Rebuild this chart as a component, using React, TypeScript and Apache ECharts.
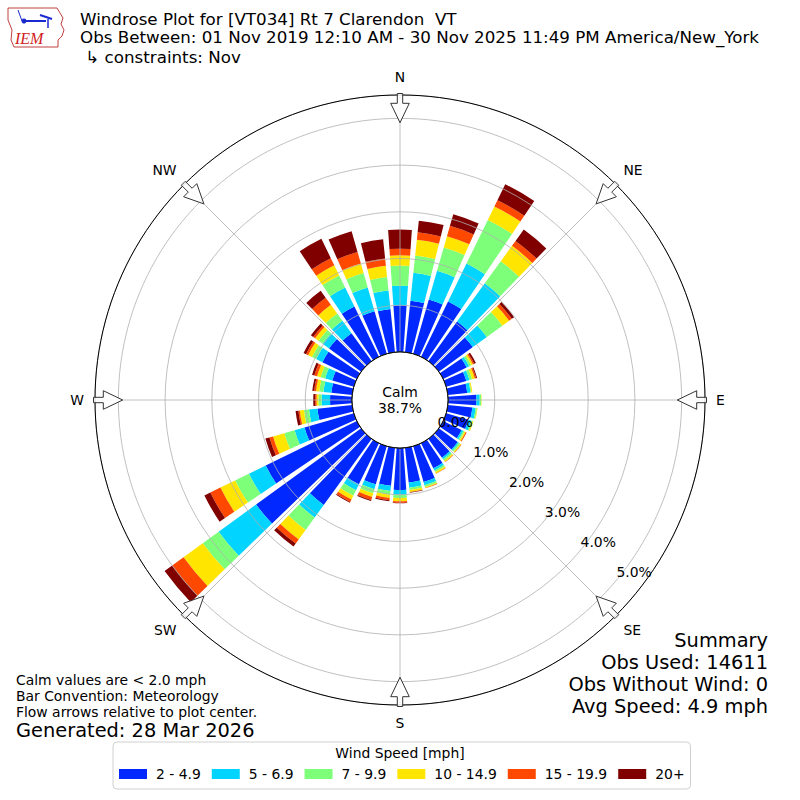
import React, { useEffect, useRef } from "react";
import * as echarts from "echarts";

// ---- data (percent of observations, per 10-degree direction bin) ----
const DIRECTIONS = [0, 10, 20, 30, 40, 50, 60, 70, 80, 90, 100, 110, 120, 130, 140, 150, 160, 170,
  180, 190, 200, 210, 220, 230, 240, 250, 260, 270, 280, 290, 300, 310, 320, 330, 340, 350];

const SPEED_BINS = ["2 - 4.9", "5 - 6.9", "7 - 9.9", "10 - 14.9", "15 - 19.9", "20+"];
const BIN_COLORS = ["#0028ff", "#00d4ff", "#7dff7a", "#ffe500", "#ff4800", "#800000"];

const SPD_2_5 = [1.00, 1.11, 1.21, 1.32, 1.05, 0.90, 0.56, 0.45, 0.42, 0.61, 0.53, 0.50, 0.44, 0.50, 0.50, 0.60, 0.80, 0.75,
  0.90, 0.82, 0.85, 0.98, 1.75, 2.78, 2.17, 1.10, 0.75, 0.47, 0.45, 0.48, 0.82, 0.85, 0.74, 1.20, 0.95, 0.93];
const SPD_5_7 = [0.42, 0.60, 0.64, 0.90, 1.01, 0.37, 0.06, 0.07, 0.07, 0.07, 0.07, 0.06, 0.04, 0.03, 0.04, 0.05, 0.07, 0.11,
  0.10, 0.11, 0.11, 0.14, 0.33, 0.99, 0.40, 0.22, 0.18, 0.18, 0.17, 0.16, 0.15, 0.17, 0.33, 0.45, 0.53, 0.40];
const SPD_7_10 = [0.43, 0.37, 0.52, 1.04, 0.58, 0.41, 0.05, 0.06, 0.02, 0.03, 0.03, 0.03, 0.03, 0.04, 0.04, 0.04, 0.04, 0.05,
  0.07, 0.08, 0.09, 0.13, 0.33, 0.42, 0.33, 0.23, 0.11, 0.07, 0.09, 0.10, 0.10, 0.11, 0.19, 0.29, 0.32, 0.29];
const SPD_10_15 = [0.22, 0.34, 0.25, 0.32, 0.41, 0.18, 0.04, 0.06, 0.02, 0.01, 0.01, 0.02, 0.03, 0.02, 0.03, 0.03, 0.02, 0.04,
  0.07, 0.07, 0.08, 0.09, 0.25, 0.51, 0.35, 0.25, 0.09, 0.04, 0.07, 0.08, 0.09, 0.09, 0.23, 0.24, 0.21, 0.24];
const SPD_15_20 = [0.14, 0.16, 0.23, 0.15, 0.13, 0.07, 0.03, 0.03, 0.00, 0.00, 0.00, 0.00, 0.02, 0.01, 0.01, 0.01, 0.01, 0.01,
  0.03, 0.05, 0.07, 0.06, 0.11, 0.30, 0.24, 0.08, 0.03, 0.03, 0.04, 0.06, 0.05, 0.05, 0.19, 0.17, 0.26, 0.16];
const SPD_20_UP = [0.41, 0.25, 0.26, 0.38, 0.30, 0.06, 0.04, 0.02, 0.00, 0.00, 0.00, 0.00, 0.00, 0.00, 0.00, 0.00, 0.00, 0.01,
  0.01, 0.02, 0.02, 0.02, 0.08, 0.20, 0.14, 0.09, 0.06, 0.04, 0.04, 0.05, 0.06, 0.06, 0.18, 0.46, 0.46, 0.41];

const BIN_DATA = [SPD_2_5, SPD_5_7, SPD_7_10, SPD_10_15, SPD_15_20, SPD_20_UP];

const RADIUS_MAX = 5.5;
const RADIUS_STEP = 1;
const COMPASS = ["N", "NE", "E", "SE", "S", "SW", "W", "NW"];
const CALM_PCT = "38.7%";

const TITLE_LINES = [
  "Windrose Plot for [VT034] Rt 7 Clarendon  VT",
  "Obs Between: 01 Nov 2019 12:10 AM - 30 Nov 2025 11:49 PM America/New_York",
  " \u21b3 constraints: Nov",
];
const NOTES = [
  "Calm values are < 2.0 mph",
  "Bar Convention: Meteorology",
  "Flow arrows relative to plot center.",
];
const GENERATED = "Generated: 28 Mar 2026";
const SUMMARY = ["Summary", "Obs Used: 14611", "Obs Without Wind: 0", "Avg Speed: 4.9 mph"];

const FONT = "DejaVu Sans";
const CX = 400;
const CY = 400;
const R_IN = 48;
const R_OUT = 305;

function arrowPoints(compassDeg: number): number[][] {
  const a = (compassDeg * Math.PI) / 180;
  const sa = Math.sin(a);
  const ca = Math.cos(a);
  const local = [
    [-2.7, 306.5], [2.7, 306.5], [2.7, 296.7], [9.3, 296.7], [0, 277.3], [-9.3, 296.7], [-2.7, 296.7],
  ];
  return local.map(([s, t]) => [CX + t * sa + s * ca, CY - t * ca + s * sa]);
}

export default function App() {
  const ref = useRef<HTMLDivElement>(null);

  useEffect(() => {
    document.body.style.margin = "0";
    if (!ref.current) return;
    const chart = echarts.init(ref.current, undefined, { renderer: "svg" });

    const graphics: any[] = [];
    // title
    const titleY = [18.5, 37, 56.5];
    TITLE_LINES.forEach((t, i) => {
      graphics.push({
        type: "text", x: 80, y: titleY[i],
        style: { text: t, fill: "#000", font: `16.7px "${FONT}"`, lineHeight: 17, textVerticalAlign: "middle" },
      });
    });
    // logo
    graphics.push({
      type: "polygon", z: 10,
      shape: { points: [[8, 8], [57, 8], [60, 13], [63, 18], [61, 24], [64, 30], [62, 36], [58, 40], [58, 47], [14, 47], [11, 40], [12, 30], [8, 20]] },
      style: { fill: "#fff", stroke: "#c04040", lineWidth: 1 },
    });
    graphics.push({ type: "line", z: 11, shape: { x1: 22, y1: 21, x2: 46, y2: 21 }, style: { stroke: "#1a2ad0", lineWidth: 2 } });
    graphics.push({ type: "line", z: 11, shape: { x1: 40, y1: 15, x2: 52, y2: 19 }, style: { stroke: "#1a2ad0", lineWidth: 2 } });
    graphics.push({ type: "line", z: 11, shape: { x1: 18, y1: 10, x2: 22, y2: 21 }, style: { stroke: "#1a2ad0", lineWidth: 1 } });
    graphics.push({ type: "circle", z: 11, shape: { cx: 24, cy: 21, r: 2.5 }, style: { fill: "#1a2ad0" } });
    graphics.push({ type: "line", z: 11, shape: { x1: 48, y1: 19, x2: 48, y2: 28 }, style: { stroke: "#1a2ad0", lineWidth: 1.5 } });
    graphics.push({
      type: "text", z: 11, x: 15, y: 38,
      style: { text: "IEM", fill: "#d02020", font: `italic 16px "Liberation Serif"`, lineHeight: 16, textVerticalAlign: "middle" },
    });
    // notes
    const noteY = [680, 696, 712];
    NOTES.forEach((t, i) => {
      graphics.push({
        type: "text", x: 16, y: noteY[i],
        style: { text: t, fill: "#000", font: `13.9px "${FONT}"`, lineHeight: 14, textVerticalAlign: "middle" },
      });
    });
    graphics.push({
      type: "text", x: 16, y: 730,
      style: { text: GENERATED, fill: "#000", font: `19.4px "${FONT}"`, lineHeight: 18, textVerticalAlign: "middle" },
    });
    const sumY = [640, 662, 684, 706];
    SUMMARY.forEach((t, i) => {
      graphics.push({
        type: "text", x: 768, y: sumY[i],
        style: { text: t, fill: "#000", font: `19.4px "${FONT}"`, lineHeight: 20, textAlign: "right", textVerticalAlign: "middle" },
      });
    });
    // legend title
    graphics.push({
      type: "text", x: 400, y: 753,
      style: { text: "Wind Speed [mph]", fill: "#000", font: `13.9px "${FONT}"`, textAlign: "center", textVerticalAlign: "middle" },
    });
    // calm circle
    graphics.push({
      type: "circle", z: 20, shape: { cx: CX, cy: CY, r: R_IN },
      style: { fill: "#fff", stroke: "#000", lineWidth: 1 },
    });
    graphics.push({
      type: "text", z: 21, x: CX, y: 392,
      style: { text: "Calm", fill: "#000", font: `13.9px "${FONT}"`, textAlign: "center", textVerticalAlign: "middle" },
    });
    graphics.push({
      type: "text", z: 21, x: CX, y: 408,
      style: { text: CALM_PCT, fill: "#000", font: `13.9px "${FONT}"`, textAlign: "center", textVerticalAlign: "middle" },
    });
    // flow arrows
    for (let k = 0; k < 8; k++) {
      graphics.push({
        type: "polygon", z: 22,
        shape: { points: arrowPoints(k * 45) },
        style: { fill: "rgba(255,255,255,0.85)", stroke: "#333", lineWidth: 1 },
      });
    }

    const option: any = {
      animation: false,
      backgroundColor: "#fff",
      textStyle: { fontFamily: FONT },
      polar: [
        { center: [CX, CY], radius: [R_IN, R_OUT] },
        { center: [CX, CY], radius: [R_IN, R_OUT] },
        { center: [CX, CY], radius: [R_IN - 5, R_OUT - 5] },
      ],
      angleAxis: [
        {
          polarIndex: 0, type: "category", data: DIRECTIONS.map(String), startAngle: 95, clockwise: true,
          axisLine: { show: false }, axisTick: { show: false }, axisLabel: { show: false }, splitLine: { show: false },
        },
        {
          polarIndex: 1, type: "value", min: 0, max: 360, interval: 45, startAngle: 90, clockwise: true, z: 6,
          axisLine: { show: true, lineStyle: { color: "#000", width: 1 } },
          axisTick: { show: false },
          axisLabel: {
            margin: 11, fontSize: 13.9, color: "#000", fontFamily: FONT,
            formatter: (v: number) => (v >= 360 ? "" : COMPASS[Math.round(v / 45)]),
          },
          splitLine: { show: true, lineStyle: { color: "#b0b0b0", width: 0.8 } },
        },
        {
          polarIndex: 2, type: "value", min: 0, max: 360, startAngle: -40, clockwise: true,
          axisLine: { show: false }, axisTick: { show: false }, axisLabel: { show: false }, splitLine: { show: false },
        },
      ],
      radiusAxis: [
        {
          polarIndex: 0, type: "value", min: 0, max: RADIUS_MAX, interval: RADIUS_STEP, z: 5,
          axisLine: { show: false }, axisTick: { show: false }, axisLabel: { show: false },
          splitLine: { show: true, lineStyle: { color: "#b0b0b0", width: 0.8 } },
        },
        {
          polarIndex: 1, type: "value", min: 0, max: 1,
          axisLine: { show: false }, axisTick: { show: false }, axisLabel: { show: false }, splitLine: { show: false },
        },
        {
          polarIndex: 2, type: "value", min: 0, max: RADIUS_MAX, interval: RADIUS_STEP, z: 40,
          axisLine: { show: false }, axisTick: { show: false }, splitLine: { show: false },
          axisLabel: {
            show: true, margin: 7, fontSize: 13.9, color: "#000", fontFamily: FONT,
            formatter: (v: number) => (v > 5.01 ? "" : v.toFixed(1) + "%"),
          },
        },
      ],
      legend: {
        data: SPEED_BINS, left: 113, top: 742, orient: "horizontal",
        itemWidth: 28, itemHeight: 10, itemGap: 11, icon: "rect", selectedMode: false,
        padding: [25, 6, 8, 6], borderColor: "#d0d0d0", borderWidth: 1, borderRadius: 4,
        textStyle: { fontSize: 13.9, color: "#000", fontFamily: FONT, padding: [0, 0, 0, 4] },
      },
      series: SPEED_BINS.map((name, i) => ({
        type: "bar", coordinateSystem: "polar", polarIndex: 0, name, stack: "total",
        data: BIN_DATA[i], barCategoryGap: "20%", itemStyle: { color: BIN_COLORS[i] },
      })),
      graphic: graphics,
    };

    chart.setOption(option);
    return () => chart.dispose();
  }, []);

  return <div ref={ref} style={{ width: 800, height: 800 }} />;
}
